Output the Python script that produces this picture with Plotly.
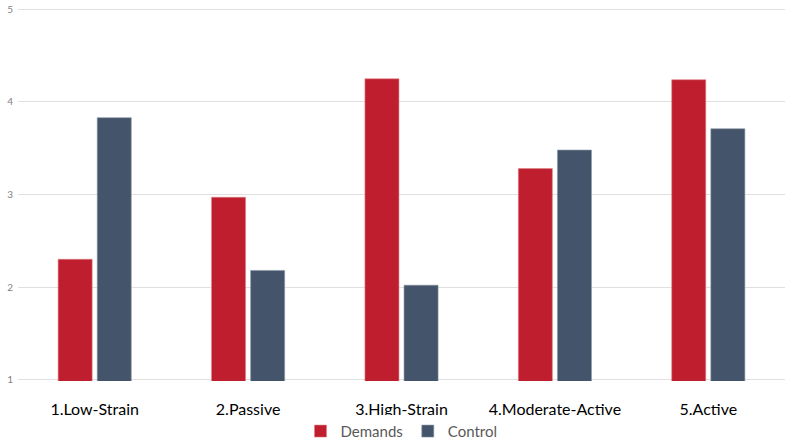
import plotly.graph_objects as go

categories = ["1.Low-Strain", "2.Passive", "3.High-Strain", "4.Moderate-Active", "5.Active"]
demands = [2.30, 2.97, 4.25, 3.28, 4.24]
control = [3.83, 2.18, 2.02, 3.48, 3.71]
y_ticks = [1, 2, 3, 4, 5]

fig = go.Figure()
fig.add_trace(go.Bar(name="Demands", x=categories, y=demands,
                     marker=dict(color="#BE1E2D", line=dict(color="#E08088", width=0.6))))
fig.add_trace(go.Bar(name="Control", x=categories, y=control,
                     marker=dict(color="#44546A", line=dict(color="#8A95A5", width=0.6))))

fig.update_layout(
    width=796, height=444,
    margin=dict(l=18, r=11, t=8, b=63, autoexpand=False),
    paper_bgcolor="white", plot_bgcolor="white",
    barmode="group", bargap=0.49, bargroupgap=0.13,
    font=dict(family="Lato, sans-serif"),
    showlegend=True,
    legend=dict(orientation="h", x=0.5, xanchor="center", y=-0.135, yanchor="middle",
                font=dict(size=15, color="#595959"), itemwidth=30,
                traceorder="normal"),
    xaxis=dict(showgrid=False, showline=False, ticks="", automargin=False,
               tickfont=dict(size=16, color="#000000"), ticklabelstandoff=17),
    yaxis=dict(range=[0.985, 5.015], tickvals=y_ticks, showgrid=True, gridcolor="#E0E0E0",
               gridwidth=1, zeroline=False, showline=False, ticks="", automargin=False,
               tickfont=dict(size=10, color="#7F7F7F"), ticklabelstandoff=4),
)
fig.write_html("out.html", config={"displayModeBar": False},
               post_script="document.body.style.margin='0';")
